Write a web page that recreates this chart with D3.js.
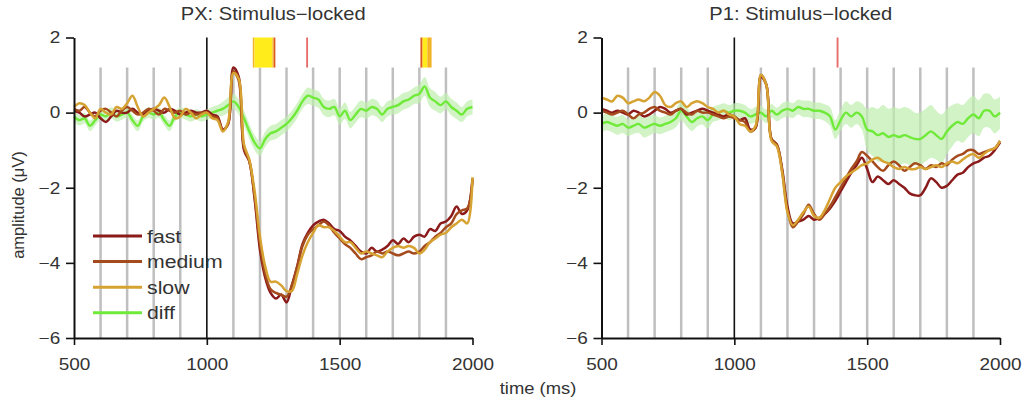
<!DOCTYPE html>
<html><head><meta charset="utf-8">
<script src="https://cdn.jsdelivr.net/npm/d3@7"></script>
<style>
body{margin:0;background:#fff;}
svg{display:block;font-family:"Liberation Sans",Arial,Helvetica,sans-serif;}
</style></head><body>
<svg id="chart" width="1024" height="400"></svg>
<script>
// ---------- DATA ----------
const timeMs = d3.range(500, 2001, 20); // 76 samples
const xTicks = [500, 1000, 1500, 2000];
const yTicks = [-6, -4, -2, 0, 2];
const gridTimes = [600, 700, 800, 900, 1100, 1200, 1300, 1400, 1500, 1600, 1700, 1800, 1900];
const conditions = ["fast", "medium", "slow", "diff"];

// PX panel
const pxFast = [
  0.05, 0.0, -0.1, -0.05, 0.0, -0.15, -0.25, -0.1, 0.05, 0.0, 0.0, 0.1, 0.0, -0.05, 0.05, 0.1, 0.05, 0.0, 0.1, 0.05, -0.05, 0.0, 0.05, 0.0, 0.0, 0.05,
  -0.05, -0.1, -0.45, -0.3, 1.2, 0.95, -1.0, -1.3, -2.3, -3.65,
  -4.4, -4.8, -4.95, -4.85, -5.05, -4.6, -4.1, -3.5, -3.2, -3.0,
  -2.9, -2.85, -2.95, -3.1, -3.15, -3.3, -3.4, -3.55, -3.7, -3.75,
  -3.6, -3.7, -3.65, -3.55, -3.4, -3.5, -3.35, -3.45, -3.3, -3.25,
  -3.3, -3.1, -3.15, -2.95, -2.9, -2.75, -2.5, -2.7, -2.6, -1.75];
const pxMedium = [
  0.1, 0.05, 0.15, 0.0, -0.1, 0.05, 0.1, 0.0, -0.1, 0.05, 0.15, 0.05, -0.05, 0.0, 0.1, 0.05, -0.05, 0.1, 0.05, 0.0, 0.05, -0.05, 0.0, -0.05, 0.0, 0.0,
  -0.1, -0.15, -0.45, -0.3, 1.1, 0.85, -0.95, -1.3, -2.25, -3.5,
  -4.3, -4.7, -4.8, -4.85, -4.9, -4.6, -4.1, -3.55, -3.25, -3.1,
  -3.0, -2.9, -3.0, -3.2, -3.35, -3.5, -3.6, -3.75, -3.9, -3.85,
  -3.8, -3.7, -3.75, -3.7, -3.75, -3.8, -3.75, -3.7, -3.75, -3.7,
  -3.55, -3.45, -3.3, -3.2, -3.05, -2.95, -2.7, -2.6, -2.55, -1.8];
const pxSlow = [
  0.15, 0.25, 0.2, 0.0, -0.15, 0.1, 0.0, -0.05, 0.15, 0.1, 0.25, 0.45, 0.15, -0.1, 0.0, 0.1, 0.2, 0.4, 0.15, -0.15, -0.1, 0.1, 0.0, -0.15, -0.05, 0.0,
  -0.15, -0.2, -0.5, -0.25, 1.05, 0.9, -0.85, -1.25, -2.1, -3.3,
  -4.1, -4.5, -4.5, -4.6, -4.75, -4.75, -4.3, -3.8, -3.45, -3.2,
  -3.0, -3.05, -3.05, -3.15, -3.3, -3.45, -3.45, -3.6, -3.75, -3.7,
  -3.75, -3.8, -3.85, -3.7, -3.6, -3.55, -3.6, -3.55, -3.6, -3.75,
  -3.65, -3.45, -3.35, -3.25, -3.2, -3.05, -2.95, -2.85, -2.95, -1.72];
const pxDiff = [
  -0.1, -0.2, -0.15, -0.35, -0.2, -0.05, -0.1, 0.0, -0.1, -0.05, 0.0, -0.2, -0.35, -0.1, 0.0, -0.05, 0.0, -0.2, -0.35, -0.1, 0.0, -0.05, -0.1, -0.05, -0.1, -0.05,
  0.0, 0.05, 0.1, 0.2, 0.3, 0.15, -0.15, -0.5, -0.8, -0.95,
  -0.7, -0.55, -0.5, -0.4, -0.3, -0.15, 0.05, 0.3, 0.45, 0.4,
  0.35, 0.15, 0.1, 0.15, -0.1, 0.05, -0.2, -0.05, 0.1, 0.05,
  0.15, 0.1, -0.05, 0.1, 0.15, 0.2, 0.3, 0.35, 0.45, 0.5,
  0.7, 0.4, 0.3, 0.2, 0.3, 0.15, 0.05, -0.05, 0.1, 0.15];
const pxDiffSE = [
  0.14, 0.14, 0.14, 0.14, 0.14, 0.14, 0.14, 0.14, 0.14, 0.14, 0.14, 0.14, 0.14, 0.14, 0.14, 0.14, 0.14, 0.14, 0.14, 0.14, 0.14, 0.14, 0.14, 0.14, 0.14, 0.14,
  0.15, 0.15, 0.18, 0.2, 0.2, 0.2, 0.2, 0.2, 0.2, 0.2,
  0.2, 0.2, 0.2, 0.2, 0.2, 0.2, 0.2, 0.2, 0.22, 0.22,
  0.22, 0.22, 0.22, 0.22, 0.22, 0.22, 0.22, 0.22, 0.22, 0.22,
  0.22, 0.22, 0.2, 0.2, 0.2, 0.22, 0.22, 0.22, 0.22, 0.25,
  0.25, 0.25, 0.25, 0.22, 0.22, 0.22, 0.22, 0.2, 0.2, 0.2];
// significance marks: start, end (ms), level (1 strongest = yellow ... 4 = thin red)
const pxSigStart = [1173, 1179, 1247, 1252, 1374, 1804, 1812, 1830];
const pxSigEnd   = [1179, 1247, 1252, 1258, 1381, 1812, 1830, 1846];
const pxSigLevel = [2, 1, 2, 3, 4, 3, 1, 2];

// P1 panel
const p1Fast = [
  0.1, 0.05, 0.0, 0.05, 0.0, -0.05, 0.05, 0.0, -0.1, -0.05, 0.05, 0.15, 0.1, 0.0, 0.05, 0.1, -0.05, 0.0, 0.05, 0.1, 0.05, 0.0, -0.05, -0.1, -0.05, -0.1,
  -0.2, -0.15, -0.45, -0.4, 0.95, 0.75, -0.7, -0.85, -1.5, -2.5,
  -2.95, -2.9, -2.85, -2.75, -2.85, -2.8, -2.7, -2.55, -2.35, -2.1,
  -1.85, -1.6, -1.4, -1.2, -1.5, -1.85, -1.7, -1.8, -1.9, -1.8,
  -1.9, -2.0, -2.15, -2.2, -2.2, -2.0, -1.75, -1.85, -2.0, -1.95,
  -1.8, -1.65, -1.6, -1.45, -1.35, -1.3, -1.2, -1.15, -1.0, -0.8];
const p1Medium = [
  0.05, 0.0, -0.05, 0.0, 0.05, -0.05, -0.15, -0.05, 0.0, 0.1, 0.15, 0.05, 0.0, -0.05, 0.05, 0.1, 0.0, -0.05, 0.05, 0.0, 0.0, -0.05, -0.1, -0.15, -0.1, -0.15,
  -0.2, -0.25, -0.5, -0.4, 1.0, 0.75, -0.7, -0.85, -1.55, -2.6,
  -3.05, -2.9, -2.7, -2.45, -2.7, -2.85, -2.7, -2.5, -2.25, -2.0,
  -1.75, -1.5, -1.3, -1.05, -1.15, -1.3, -1.45, -1.55, -1.4, -1.3,
  -1.4, -1.55, -1.45, -1.35, -1.4, -1.5, -1.4, -1.45, -1.35, -1.4,
  -1.25, -1.15, -1.1, -1.0, -1.0, -1.1, -1.05, -1.0, -0.95, -0.75];
const p1Slow = [
  0.4, 0.35, 0.3, 0.45, 0.4, 0.25, 0.3, 0.35, 0.3, 0.4, 0.55, 0.45, 0.2, 0.15, 0.25, 0.3, 0.15, 0.25, 0.3, 0.25, 0.15, 0.1, 0.0, 0.05, -0.05, -0.1,
  -0.3, -0.35, -0.5, -0.35, 1.0, 0.75, -0.75, -0.9, -1.6, -2.65,
  -3.0, -2.85, -2.65, -2.5, -2.75, -2.8, -2.6, -2.3, -2.0, -1.85,
  -1.7, -1.6, -1.5, -1.4, -1.35, -1.25, -1.2, -1.3, -1.35, -1.45,
  -1.5, -1.45, -1.5, -1.5, -1.45, -1.5, -1.45, -1.4, -1.45, -1.35,
  -1.3, -1.35, -1.25, -1.15, -1.1, -1.2, -1.1, -1.0, -0.95, -0.75];
const p1Diff = [
  -0.3, -0.25, -0.3, -0.35, -0.3, -0.4, -0.35, -0.3, -0.4, -0.35, -0.3, -0.35, -0.3, -0.25, -0.15, 0.05, -0.1, -0.25, -0.15, -0.1, -0.2, -0.05, 0.0, 0.05, 0.0, 0.05,
  0.05, 0.0, -0.1, -0.05, 0.0, -0.1, 0.05, -0.05, 0.05, 0.1,
  0.05, 0.15, 0.1, 0.1, 0.05, 0.05, 0.0, -0.1, -0.45, -0.2,
  0.0, -0.1, 0.0, -0.1, -0.45, -0.5, -0.6, -0.55, -0.65, -0.6,
  -0.65, -0.6, -0.65, -0.7, -0.7, -0.6, -0.5, -0.6, -0.7, -0.5,
  -0.35, -0.25, -0.3, -0.15, -0.05, -0.15, 0.05, 0.05, -0.1, 0.0];
const p1DiffSE = [
  0.22, 0.22, 0.22, 0.24, 0.24, 0.22, 0.22, 0.24, 0.26, 0.26, 0.24, 0.22, 0.22, 0.22, 0.24, 0.26, 0.26, 0.24, 0.22, 0.22, 0.22, 0.2, 0.2, 0.2, 0.2, 0.2,
  0.2, 0.2, 0.2, 0.2, 0.18, 0.18, 0.18, 0.18, 0.2, 0.2,
  0.2, 0.2, 0.22, 0.22, 0.22, 0.22, 0.22, 0.25, 0.25, 0.28,
  0.3, 0.3, 0.3, 0.35, 0.55, 0.65, 0.7, 0.75, 0.75, 0.75,
  0.75, 0.75, 0.75, 0.7, 0.7, 0.7, 0.7, 0.65, 0.65, 0.6,
  0.55, 0.5, 0.5, 0.5, 0.5, 0.48, 0.45, 0.45, 0.45, 0.42];
const p1SigStart = [1385];
const p1SigEnd   = [1392];
const p1SigLevel = [4];

// ---------- DRAWING ----------
const svg = d3.select("#chart");
const STRETCH = 1.15;
const textColor = "#333";
const colors = {fast: "#8b1a1a", medium: "#a54a1c", slow: "#d6a232", diff: "#6fea38"};
const sigColor = d3.scaleOrdinal().domain([1, 2, 3, 4]).range(["#ffec1a", "#f4b227", "#de5a1e", "#e86a6a"]);

const y = d3.scaleLinear().domain([-6, 2]).range([338, 37.5]);

const panels = [
  {title: "PX: Stimulus\u2212locked", x0: 74, x1: 472.5, fast: pxFast, medium: pxMedium, slow: pxSlow, diff: pxDiff, se: pxDiffSE,
   sigS: pxSigStart, sigE: pxSigEnd, sigL: pxSigLevel, legend: true},
  {title: "P1: Stimulus\u2212locked", x0: 601.5, x1: 1000, fast: p1Fast, medium: p1Medium, slow: p1Slow, diff: p1Diff, se: p1DiffSE,
   sigS: p1SigStart, sigE: p1SigEnd, sigL: p1SigLevel, legend: false}
];

function stretchedText(g, x, yy, str, size, anchor) {
  return g.append("text")
    .attr("transform", `translate(${x},${yy}) scale(${STRETCH},1)`)
    .attr("text-anchor", anchor || "middle")
    .attr("font-size", size)
    .attr("fill", textColor)
    .text(str);
}

panels.forEach(p => {
  const x = d3.scaleLinear().domain([500, 2000]).range([p.x0, p.x1]);
  const g = svg.append("g");

  // grey vertical lines
  g.selectAll("line.grid").data(gridTimes).join("line")
    .attr("class", "grid")
    .attr("x1", d => x(d)).attr("x2", d => x(d))
    .attr("y1", y(1.2)).attr("y2", y(-6))
    .attr("stroke", "#bfbfbf").attr("stroke-width", 2.5);

  // significance marks
  g.selectAll("rect.sig").data(p.sigS.map((s, i) => ({s, e: p.sigE[i], l: p.sigL[i]}))).join("rect")
    .attr("class", "sig")
    .attr("x", d => x(d.s)).attr("width", d => x(d.e) - x(d.s))
    .attr("y", y(2)).attr("height", y(1.2) - y(2))
    .attr("fill", d => sigColor(d.l));

  // stimulus onset line
  g.append("line")
    .attr("x1", x(1000)).attr("x2", x(1000))
    .attr("y1", y(2)).attr("y2", y(-6))
    .attr("stroke", "#111").attr("stroke-width", 1.6);

  // diff band
  const area = d3.area().curve(d3.curveCatmullRom.alpha(0.5))
    .x((d, i) => x(timeMs[i]))
    .y0((d, i) => y(p.diff[i] - p.se[i]))
    .y1((d, i) => y(p.diff[i] + p.se[i]));
  g.append("path").datum(p.diff).attr("d", area)
    .attr("fill", "#bdeeac").attr("opacity", 0.7);

  const line = d3.line().curve(d3.curveCatmullRom.alpha(0.5))
    .x((d, i) => x(timeMs[i])).y(d => y(d));

  g.append("path").datum(p.diff).attr("d", line)
    .attr("fill", "none").attr("stroke", colors.diff).attr("stroke-width", 2.4);

  ["fast", "medium", "slow"].forEach(k => {
    g.append("path").datum(p[k]).attr("d", line)
      .attr("fill", "none").attr("stroke", colors[k]).attr("stroke-width", 2.5)
      .attr("stroke-linejoin", "round");
  });

  // axes
  const yAxis = g.append("g").attr("transform", `translate(${p.x0},0)`)
    .call(d3.axisLeft(y).tickValues(yTicks).tickSize(8).tickSizeOuter(0).tickPadding(4));
  const xAxis = g.append("g").attr("transform", `translate(0,${y(-6)})`)
    .call(d3.axisBottom(x).tickValues(xTicks).tickFormat(d3.format("d")).tickSize(7).tickSizeOuter(0).tickPadding(13));
  [yAxis, xAxis].forEach(a => {
    a.selectAll("path.domain").attr("stroke", "#111").attr("stroke-width", 2);
    a.selectAll(".tick line").attr("stroke", "#111").attr("stroke-width", 1.6);
    a.selectAll(".tick text").attr("font-size", 16.5).attr("fill", textColor)
      .attr("font-family", "Liberation Sans, Arial, sans-serif");
  });
  xAxis.selectAll(".tick text").attr("transform", `scale(${STRETCH},1)`);
  yAxis.selectAll(".tick text").attr("transform", `scale(${STRETCH},1)`);

  // title
  stretchedText(svg, (p.x0 + p.x1) / 2, 20, p.title, 17.5, "middle");

  // legend
  if (p.legend) {
    const lg = svg.append("g");
    conditions.forEach((c, i) => {
      const ly = 236 + i * 25.6;
      lg.append("line").attr("x1", 93).attr("x2", 142).attr("y1", ly).attr("y2", ly)
        .attr("stroke", colors[c]).attr("stroke-width", 3);
      stretchedText(lg, 147, ly + 6.5, c, 18.5, "start");
    });
  }
});

// axis labels
svg.append("text")
  .attr("transform", "translate(24,205) rotate(-90)")
  .attr("text-anchor", "middle").attr("font-size", 16.5).attr("fill", textColor)
  .text("amplitude (\u03bcV)");
stretchedText(svg, 538, 394, "time (ms)", 16, "middle");
</script>
</body></html>
